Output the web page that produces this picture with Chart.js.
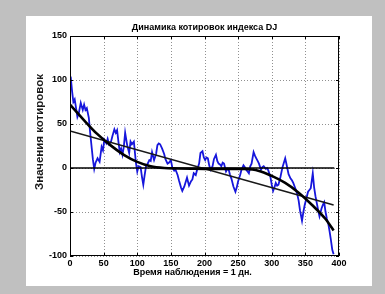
<!DOCTYPE html>
<html><head><meta charset="utf-8">
<script src="https://cdn.jsdelivr.net/npm/chart.js@4"></script>
<style>html,body{margin:0;padding:0;background:#c0c0c0;}#wrap{width:385px;height:294px;}</style>
</head><body><div id="wrap"><canvas id="c" width="385" height="294"></canvas></div>
<script>
const chartTitle = "Динамика котировок индекса DJ";
const xTitle = "Время наблюдения = 1 дн.";
const yTitle = "Значения котировок";
const xTicks = [0,50,100,150,200,250,300,350,400];
const yTicks = [-100,-50,0,50,100,150];
const days = [0,1,3,5,7,9,11,13,16,19,21,23,25,28,30,32,34,36,38,41,44,47,49,51,54,56,58,61,63,66,68,70,72,74,76,78,80,82,85,88,90,92,95,98,100,102,105,107,109,111,113,115,118,120,122,125,128,130,132,134,137,140,142,145,147,150,152,155,157,160,162,165,167,170,172,174,177,180,182,184,187,189,192,194,197,199,201,203,205,207,209,212,214,217,219,221,223,225,227,229,232,234,236,238,240,243,246,248,250,253,255,258,260,262,264,266,268,270,273,275,277,279,281,284,286,288,291,293,295,298,300,302,304,306,308,310,313,316,318,320,322,325,328,330,332,334,336,338,340,342,345,347,349,351,354,356,358,361,363,365,367,369,371,374,376,378,380,382,384,386,388,390,392];
const quotes = [100,104,88,75,78,68,58,62,74,66,72,66,68,57,40,25,10,-1,6,11,7,24,20,32,28,33,27,30,36,44,40,43,30,18,22,15,24,40,26,17,30,27,30,6,-4,2,1,-10,-19,-8,2,4,9,8,18,9,16,26,28,27,22,16,10,5,6,9,1,-3,-2,-8,-14,-22,-26,-21,-16,-11,-20,-15,-13,-6,-8,-2,5,17,19,12,9,12,11,3,-2,2,10,15,8,5,4,2,6,5,-4,-1,-2,-8,-12,-21,-27,-22,-15,-8,-2,3,1,-2,-4,-6,2,5,18,14,11,8,5,-2,1,2,-1,0,-3,-10,-19,-26,-22,-17,-20,-19,-10,1,6,11,4,-7,-12,-14,-17,-21,-25,-30,-37,-48,-60,-50,-42,-36,-27,-25,-23,-6,-22,-32,-40,-48,-55,-46,-42,-39,-50,-58,-63,-72,-82,-93,-98];
const fitDays = [0,20,40,60,80,100,120,140,160,180,200,220,240,260,280,300,320,340,360,380,392];
const fitValues = [72,55,39,26,15,7,2,0,-0.5,-0.8,-1,-1,-1,-1.2,-3,-9,-17,-28,-42,-58,-71];
const trendDays = [0,392];
const trendValues = [42,-42];
const zeroDays = [0,393];
const zeroValues = [0,0];

const pts = (xs, ys) => xs.map((x, i) => ({x: x, y: ys[i]}));
const FONT = "'Liberation Sans', Arial, sans-serif";
const NARROW = "'Liberation Sans Narrow', 'Liberation Sans', Arial, sans-serif";

const framePlugin = {
  id: 'frame',
  beforeDraw(chart) {
    const ctx = chart.ctx;
    ctx.save();
    ctx.fillStyle = '#c0c0c0';
    ctx.fillRect(0, 0, chart.width, chart.height);
    ctx.fillStyle = '#ffffff';
    ctx.fillRect(26, 16, 346, 270);
    ctx.restore();
  },
  beforeDatasetsDraw(chart) {
    const {ctx, chartArea: a, scales} = chart;
    ctx.save();
    ctx.strokeStyle = '#909090';
    ctx.lineWidth = 1;
    ctx.setLineDash([1, 2]);
    ctx.beginPath();
    xTicks.forEach(v => {
      const p = Math.round(scales.x.getPixelForValue(v)) + 0.5;
      ctx.moveTo(p, a.top); ctx.lineTo(p, a.bottom);
    });
    yTicks.forEach(v => {
      const p = Math.round(scales.y.getPixelForValue(v)) + 0.5;
      ctx.moveTo(a.left, p); ctx.lineTo(a.right, p);
    });
    ctx.stroke();
    ctx.restore();
  },
  afterDatasetsDraw(chart) {
    const {ctx, chartArea: a, scales} = chart;
    ctx.save();
    ctx.strokeStyle = '#000';
    ctx.lineWidth = 1;
    ctx.strokeRect(a.left + 0.5, a.top + 0.5, a.right - a.left - 1, a.bottom - a.top - 1);
    ctx.beginPath();
    xTicks.forEach(v => {
      const p = Math.round(scales.x.getPixelForValue(v)) + 0.5;
      ctx.moveTo(p, a.bottom); ctx.lineTo(p, a.bottom - 3);
      ctx.moveTo(p, a.top); ctx.lineTo(p, a.top + 3);
    });
    yTicks.forEach(v => {
      const p = Math.round(scales.y.getPixelForValue(v)) + 0.5;
      ctx.moveTo(a.left, p); ctx.lineTo(a.left + 3, p);
      ctx.moveTo(a.right, p); ctx.lineTo(a.right - 3, p);
    });
    ctx.stroke();
    // titles
    ctx.fillStyle = '#000';
    ctx.textAlign = 'center';
    ctx.textBaseline = 'middle';
    ctx.font = "bold 9px " + FONT;
    ctx.fillText(chartTitle, (a.left + a.right) / 2, 28);
    ctx.font = "bold 9px " + NARROW;
    ctx.fillText(xTitle, (a.left + a.right) / 2 - 12, 273);
    ctx.translate(40, 132);
    ctx.rotate(-Math.PI / 2);
    ctx.fillStyle = '#1a1a1a';
    ctx.font = "bold 11.5px " + FONT;
    ctx.fillText(yTitle, 0, 0);
    ctx.restore();
  }
};

new Chart(document.getElementById('c'), {
  type: 'line',
  data: {
    datasets: [
      {data: pts(days, quotes), borderColor: '#1616dc', borderWidth: 1.8, order: 4},
      {data: pts(zeroDays, zeroValues), borderColor: '#000', borderWidth: 1.3, order: 3},
      {data: pts(trendDays, trendValues), borderColor: '#181818', borderWidth: 1.5, order: 2},
      {data: pts(fitDays, fitValues), borderColor: '#000', borderWidth: 2.6, cubicInterpolationMode: 'monotone', order: 1}
    ]
  },
  options: {
    responsive: false,
    animation: false,
    elements: {point: {radius: 0}, line: {tension: 0}},
    layout: {padding: {left: 26, right: 46, top: 36, bottom: 8}},
    plugins: {
      legend: {display: false},
      tooltip: {enabled: false},
      title: {display: false}
    },
    scales: {
      x: {type: 'linear', min: 0, max: 400,
        afterBuildTicks: s => { s.ticks = xTicks.map(v => ({value: v})); },
        afterFit: s => { s.height = 30; },
        ticks: {color: '#000', padding: 2, maxRotation: 0, font: {family: FONT, size: 9, weight: 'bold'}},
        grid: {display: false, drawTicks: false},
        border: {display: false}
      },
      y: {type: 'linear', min: -100, max: 150,
        afterBuildTicks: s => { s.ticks = yTicks.map(v => ({value: v})); },
        afterFit: s => { s.width = 44; },
        ticks: {color: '#000', padding: 3, font: {family: FONT, size: 9, weight: 'bold'}},
        grid: {display: false, drawTicks: false},
        border: {display: false}
      }
    }
  },
  plugins: [framePlugin]
});
</script>
</body></html>
